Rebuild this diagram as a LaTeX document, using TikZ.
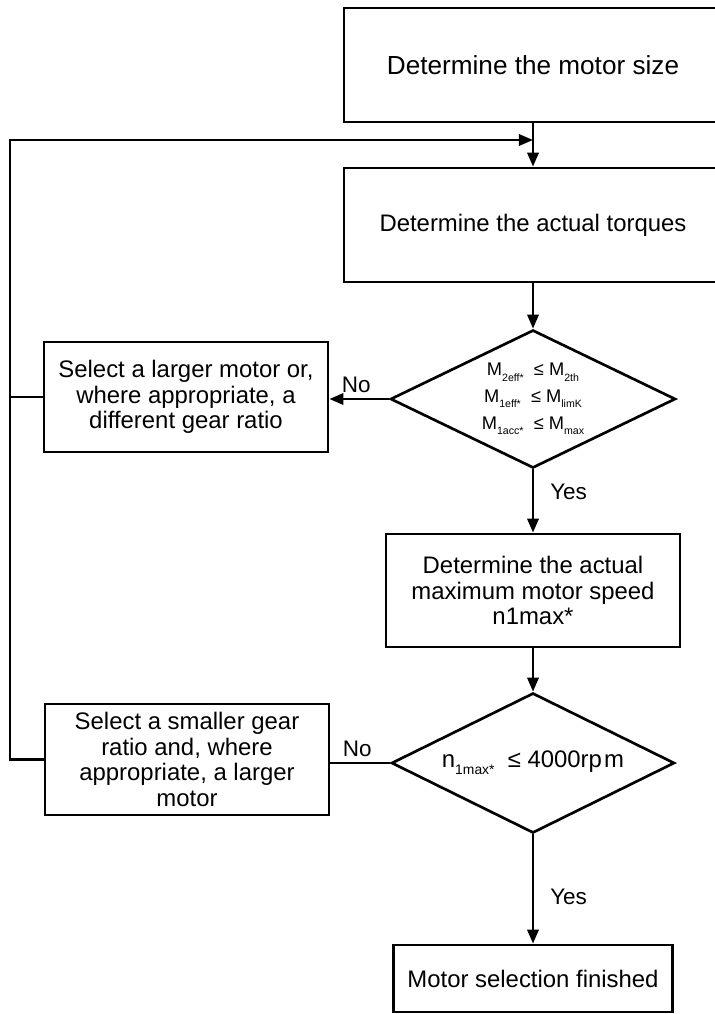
\documentclass[tikz,border=0pt]{standalone}
\usepackage{fontspec}
\setmainfont{Liberation Sans}
\usepackage{tikz}
\usetikzlibrary{arrows.meta,shapes.geometric}
\newcommand{\lowsub}[1]{\raisebox{-0.55ex}{\scalebox{0.58}{#1}}}

\begin{document}
\begin{tikzpicture}[x=0.025cm, y=-0.025cm,
  font=\fontsize{17}{18.3}\selectfont,
  arr/.style={-{Triangle[length=10pt, width=8pt]}, line width=1.9pt},
  lin/.style={line width=1.9pt},
  box/.style={draw, line width=1.9pt, align=center, inner sep=0pt},
  chk/.style={draw, diamond, shape aspect=2, line width=1.9pt, align=center, inner sep=0pt},
  lab/.style={font=\fontsize{16}{18}\selectfont}]
\useasboundingbox (0,0) rectangle (715,1014);
\clip (0,0) rectangle (715,1014);
% ---- main column ----
\node[box, minimum width=9.45cm, minimum height=2.85cm,
  font=\fontsize{18.6}{20}\selectfont] (size) at (533,65)
  {Determine the motor size};
\node[box, minimum width=9.45cm, minimum height=2.85cm] (torq) at (533,225)
  {Determine the actual torques};
\node[chk, minimum width=7.125cm, minimum height=3.45cm,
  font=\fontsize{13}{19}\selectfont] (chk1) at (533,399)
  {M\lowsub{2eff*}\ \ ≤ M\lowsub{2th}\\
   M\lowsub{1eff*}\ \ ≤ M\lowsub{limK}\\
   M\lowsub{1acc*}\ \ ≤ M\lowsub{max}};
\node[box, minimum width=7.35cm, minimum height=2.825cm] (speed) at (533,590.5)
  {Determine the actual\\ maximum motor speed\\ n1max*};
\node[chk, minimum width=7.075cm, minimum height=3.5cm] (chk2) at (533,763)
  {n\lowsub{1max*}\ \ ≤ 4000rp\hspace{1.5pt}m};
\node[box, minimum width=6.975cm, minimum height=1.675cm] (done) at (533,978.5)
  {Motor selection finished};
% ---- left column: corrections ----
\node[box, minimum width=7.1cm, minimum height=2.75cm] (larger) at (186,397)
  {Select a larger motor or,\\ where appropriate, a\\ different gear ratio};
\node[box, minimum width=7.1cm, minimum height=2.775cm] (smaller) at (187,759.5)
  {Select a smaller gear\\ ratio and, where\\ appropriate, a larger\\ motor};
% ---- connectors ----
\coordinate (loop) at (10,140);
\coordinate (merge) at (533,140);
\draw[arr] (size) -- (torq);
\draw[arr] (torq) -- (chk1);
\draw[arr] (chk1.west) -- node[lab, above, pos=0.55] {No} (larger.east |- chk1.west);
\draw[arr] (chk1.south) -- node[lab, right, pos=0.36, xshift=8pt] {Yes} (speed.north);
\draw[arr] (speed) -- (chk2);
\draw[lin] (chk2.west) -- node[lab, above, pos=0.55] {No} (smaller.east |- chk2.west);
\draw[arr] (chk2.south) -- node[lab, right, pos=0.57, xshift=8pt] {Yes} (done.north);
% feedback loop back to the torque step
\draw[arr] (smaller.west) -| (loop) -- (merge);
\draw[lin] (larger.west) -- (loop |- larger.west);
\end{tikzpicture}
\end{document}
